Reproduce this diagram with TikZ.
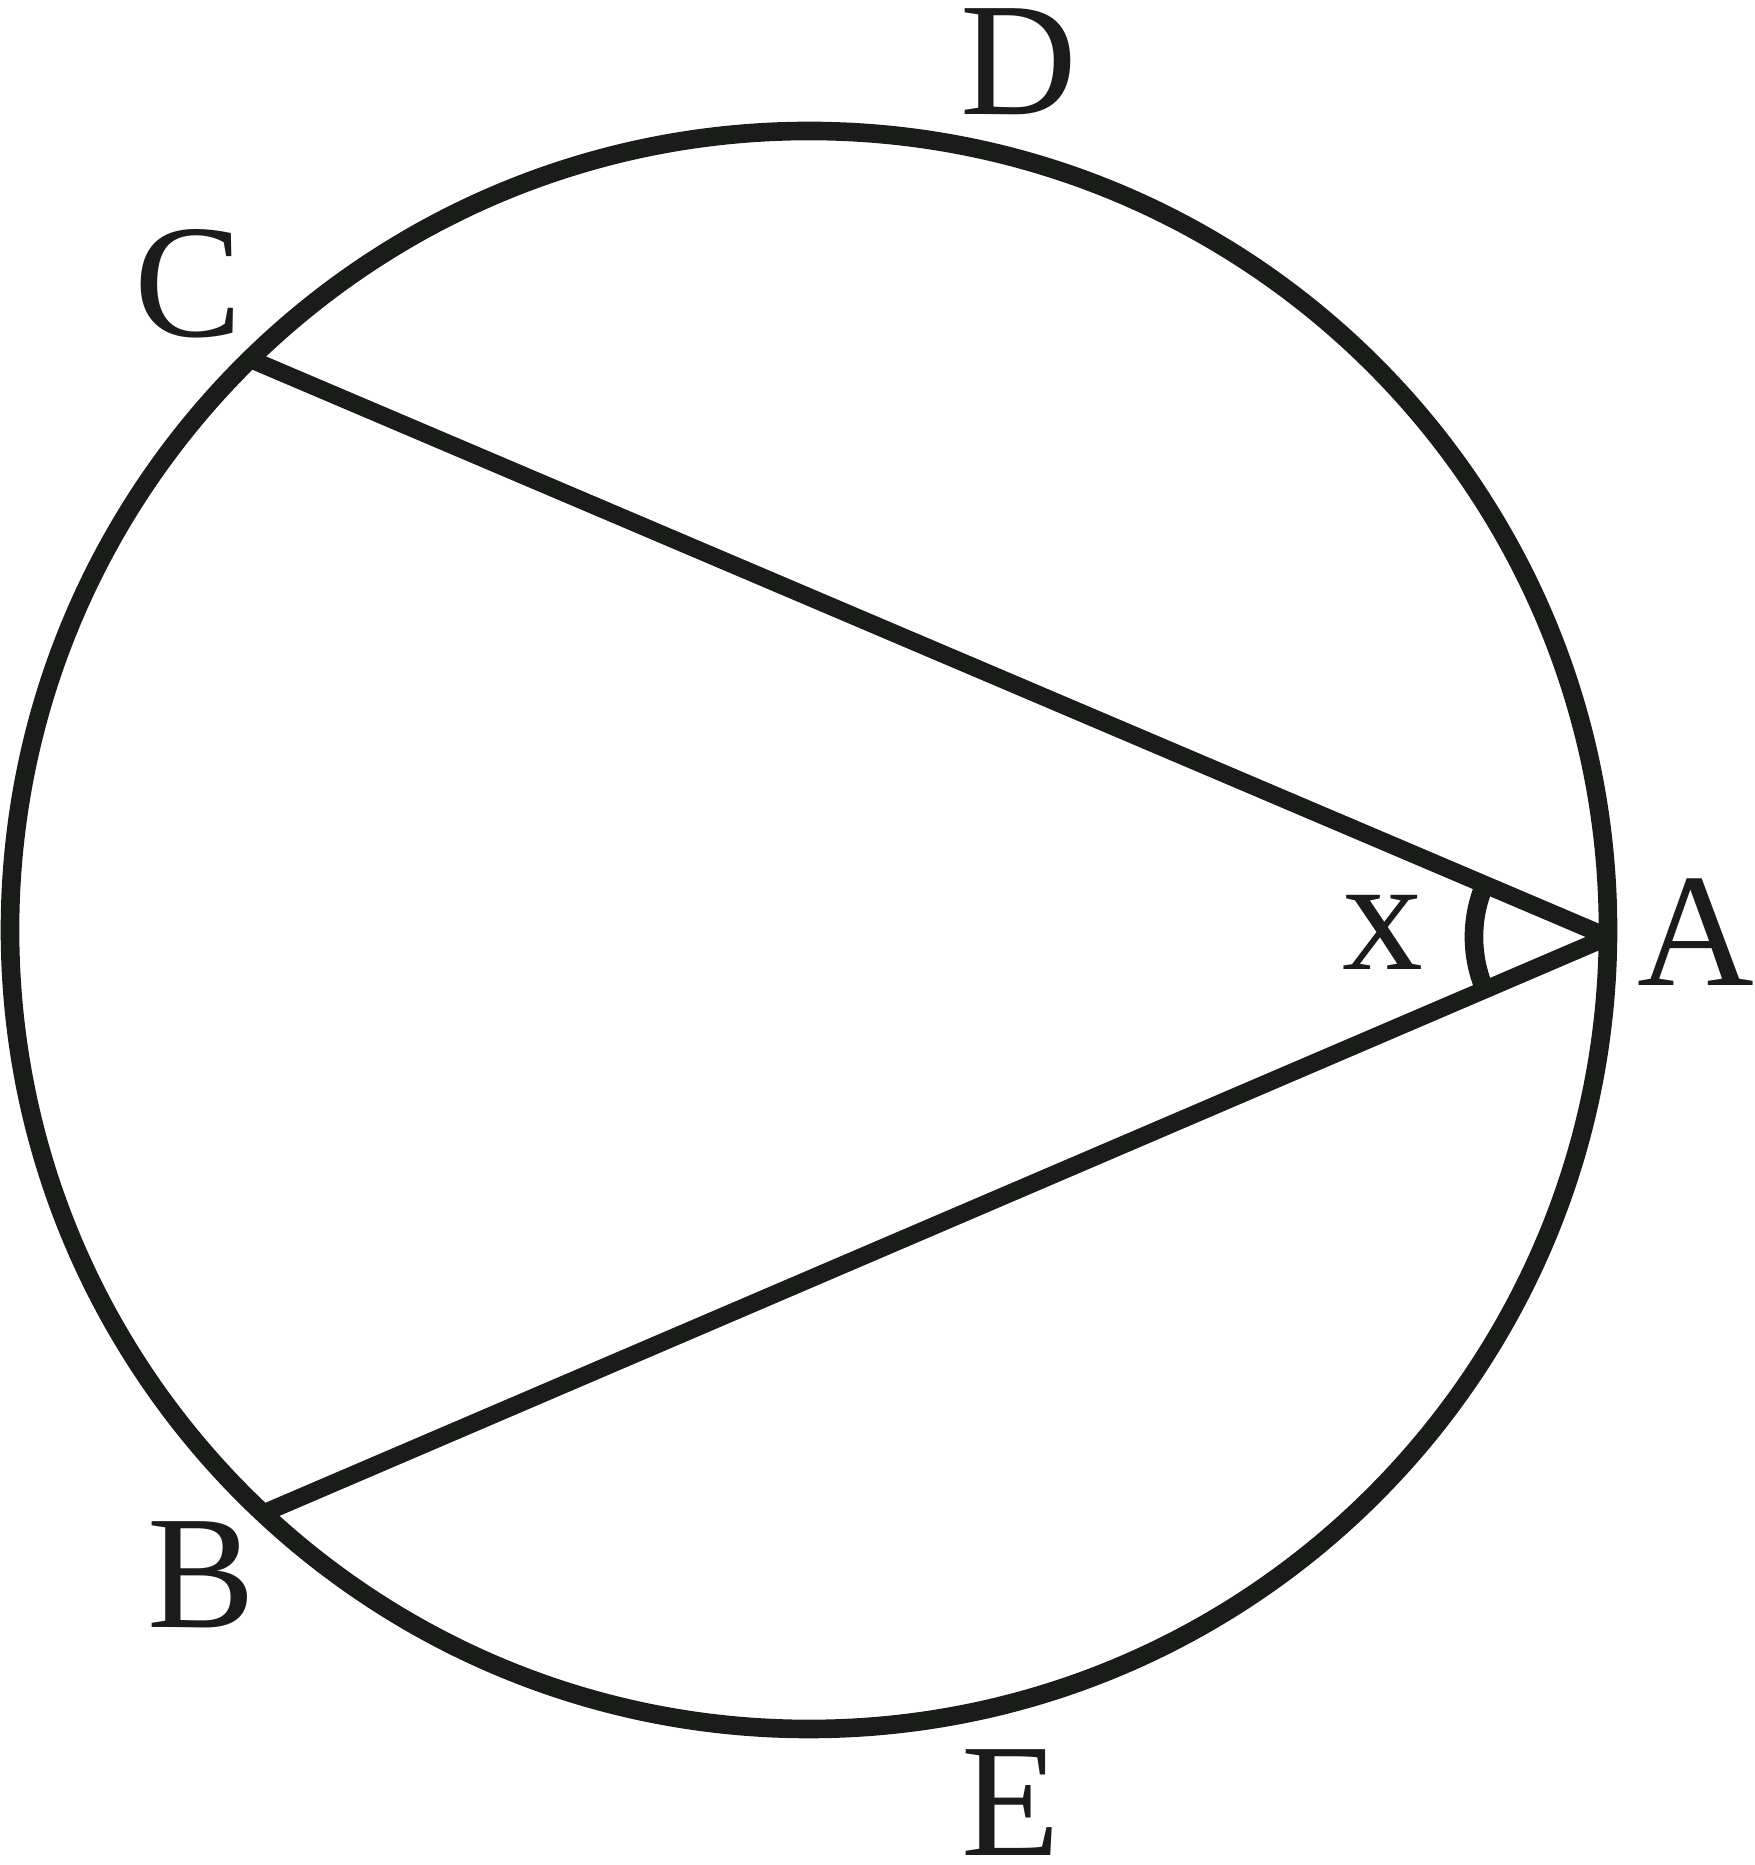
\documentclass[tikz,border=0pt]{standalone}
\usepackage{fontspec}
\setmainfont{Liberation Serif}
\usetikzlibrary{calc}
\definecolor{ink}{RGB}{26,28,26}
\tikzset{
  rim/.style={draw=ink, line width=5.3pt},
  chord/.style={draw=ink, line width=5pt, line join=round},
  anglearc/.style={draw=ink, line width=5.3pt},
  pointlabel/.style={text=ink, inner sep=0pt, font=\fontsize{46}{50}\selectfont}
}
\begin{document}
\begin{tikzpicture}
  \useasboundingbox (0,0) rectangle (17.54,18.65);
  \coordinate (O) at (8.09,9.35);
  \draw[rim] (O) circle (7.99);

  \coordinate (A) at ($(O)+(-0.5:7.99)$);
  \coordinate (B) at ($(O)+(226.9:7.99)$);
  \coordinate (C) at ($(O)+(134.4:7.99)$);
  \draw[chord] (C) -- (A) -- (B);
  \draw[anglearc] ([shift={(156.9:1.34)}]A) arc[start angle=156.9, end angle=203.2, radius=1.34];

  \node[pointlabel] (lA) at (16.96,9.33) {A};
  \node[pointlabel] (lB) at (2.01,2.90) {B};
  \node[pointlabel] (lC) at (1.88,15.81) {C};
  \node[pointlabel] (lD) at (10.19,18.03) {D};
  \node[pointlabel] (lE) at (10.11,0.62) {E};
  \node[pointlabel] (lx) at (13.83,9.33) {x};
\end{tikzpicture}
\end{document}
